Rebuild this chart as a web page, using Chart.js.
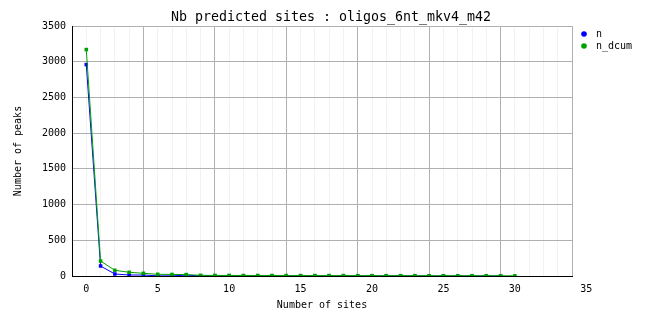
<!DOCTYPE html>
<html>
<head>
<meta charset="utf-8">
<script src="https://cdn.jsdelivr.net/npm/chart.js@4"></script>
<style>
  body { margin: 0; background: #fff; }
</style>
</head>
<body>
<canvas id="myChart" width="662" height="328"></canvas>
<script>
// Data
const sites = [0, 1, 2, 3, 4, 5, 6, 7, 8, 9, 10, 11, 12, 13, 14, 15, 16, 17, 18, 19, 20, 21, 22, 23, 24, 25, 26, 27, 28, 29, 30]
const nValues = [2960, 140, 28, 14, 14, 2, 2, 12, 2, 1, 1, 1, 1, 0, 1, 0, 0, 0, 0, 1, 0, 0, 0, 0, 0, 0, 0, 0, 0, 1]
const dcumValues = [3170, 210, 80, 52, 38, 24, 22, 20, 9, 8, 8, 7, 7, 7, 6, 6, 6, 6, 6, 5, 5, 5, 5, 5, 4, 4, 4, 4, 4, 3, 3]
const seriesNames = ['n', 'n_dcum']
const seriesColors = ['#0000ff', '#00a000']
const xTicks = [0, 5, 10, 15, 20, 25, 30, 35]
const yTicks = [0, 500, 1000, 1500, 2000, 2500, 3000, 3500]
const chartTitle = 'Nb predicted sites : oligos_6nt_mkv4_m42'

const mono = 'DejaVu Sans Mono'
Chart.defaults.font.family = mono
Chart.defaults.font.size = 10
Chart.defaults.color = '#000'

const toPoints = (vals) => vals.map((v, i) => ({ x: sites[i], y: v }))

// title + legend drawn on top
const extras = {
    id: 'extras',
    afterDraw(chart) {
        const c = chart.ctx
        c.save()
        c.fillStyle = '#000'
        c.textAlign = 'center'
        c.textBaseline = 'middle'
        c.font = '13.3px "' + mono + '"'
        c.fillText(chartTitle, 331, 18)

        c.font = '10px "' + mono + '"'
        c.textAlign = 'left'
        seriesNames.forEach((name, i) => {
            const y = 34 + i * 12
            c.fillStyle = seriesColors[i]
            c.beginPath()
            c.arc(584, y, 2.8, 0, Math.PI * 2)
            c.fill()
            c.fillStyle = '#000'
            c.fillText(name, 596, y + 0.5)
        })
        c.restore()
    }
}

const ctx = document.getElementById('myChart').getContext('2d')
const chart = new Chart(ctx, {
    type: 'line',
    data: {
        datasets: [{
            label: seriesNames[0],
            data: toPoints(nValues),
            borderColor: seriesColors[0],
            backgroundColor: seriesColors[0],
            borderWidth: 1,
            pointStyle: 'rect',
            pointRadius: 2.5,
            pointBorderWidth: 0,
            order: 1
        }, {
            label: seriesNames[1],
            data: toPoints(dcumValues),
            borderColor: seriesColors[1],
            backgroundColor: seriesColors[1],
            borderWidth: 1,
            pointStyle: 'rect',
            pointRadius: 2.5,
            pointBorderWidth: 0,
            order: 0
        }]
    },
    options: {
        responsive: false,
        animation: false,
        layout: { padding: { left: 8, top: 26, right: 90, bottom: 12.5 } },
        plugins: {
            legend: { display: false },
            tooltip: { enabled: false }
        },
        scales: {
            x: {
                type: 'linear',
                min: -1,
                max: 34,
                afterBuildTicks: (scale) => {
                    const t = []
                    for (let v = -1; v <= 35; v++) t.push({ value: v })
                    scale.ticks = t
                },
                afterFit: (scale) => { scale.height = 39.5 },
                ticks: {
                    autoSkip: false,
                    maxRotation: 0,
                    padding: 7,
                    callback: (v) => xTicks.includes(v) ? String(v) : ''
                },
                grid: {
                    drawTicks: false,
                    color: (c) => {
                        const v = c.tick && c.tick.value
                        if (v === -1 || v === 35) return 'rgba(0,0,0,0)'
                        return (v + 1) % 5 === 0 ? '#b0b0b0' : '#f2f2f2'
                    }
                },
                border: { color: '#000', width: 1 },
                title: { display: true, text: 'Number of sites', padding: { top: 4, bottom: 4 } }
            },
            y: {
                min: 0,
                max: 3500,
                afterBuildTicks: (scale) => { scale.ticks = yTicks.map(v => ({ value: v })) },
                afterFit: (scale) => { scale.width = 64 },
                ticks: { padding: 6, callback: (v) => String(v) },
                grid: { drawTicks: false, color: '#b0b0b0' },
                border: { color: '#000', width: 1 },
                title: { display: true, text: 'Number of peaks', padding: { top: 4, bottom: 4 } }
            }
        }
    },
    plugins: [extras]
})
</script>
</body>
</html>
